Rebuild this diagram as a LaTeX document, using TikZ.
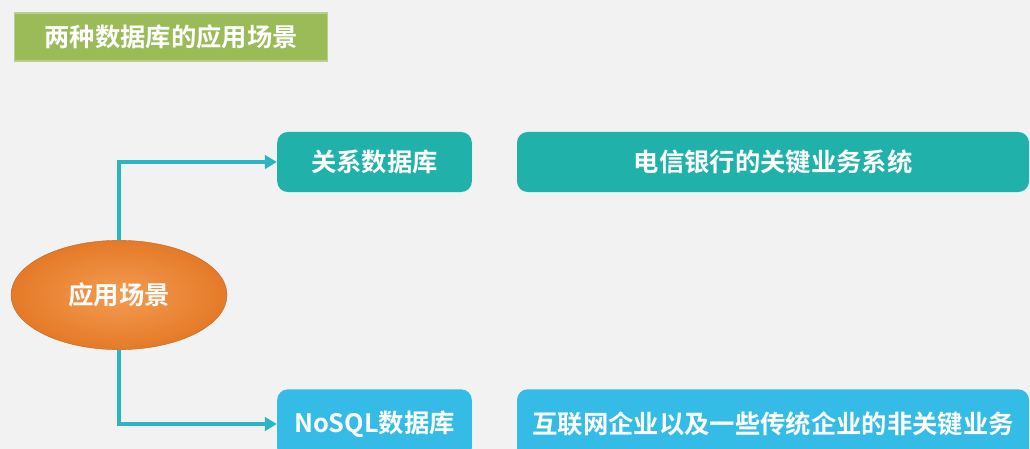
\documentclass[tikz,border=0pt]{standalone}
\usepackage{fontspec}
\setmainfont{Noto Sans CJK SC Bold}
\usepackage{xcolor}
\usepackage{tikz}
\usetikzlibrary{shapes,arrows.meta,positioning,calc}

\definecolor{bggray}{HTML}{F2F2F2}
\definecolor{titlegreen}{HTML}{9BBB59}
\definecolor{sceneorange}{HTML}{F28A32}
\definecolor{sceneedge}{HTML}{E47A28}
\definecolor{rdbteal}{HTML}{20B2AA}
\definecolor{nosqlblue}{HTML}{34BCE7}
\definecolor{linkcyan}{HTML}{2BB5C3}

\begin{document}
\begin{tikzpicture}[x=0.75pt,y=-0.75pt,
    txt/.style={text=white,font=\fontsize{19}{19}\selectfont},
    dbbox/.style={txt,rounded corners=8pt,minimum width=146pt,minimum height=45pt,inner sep=0pt},
    usebox/.style={txt,rounded corners=8pt,minimum width=384pt,minimum height=45pt,inner sep=0pt},
    link/.style={linkcyan,line width=2.3pt,-{Triangle[length=9pt,width=10pt]}}]
  % background and frame
  \fill[bggray] (0,0) rectangle (1030,449);
  \useasboundingbox (0,0) rectangle (1030,449);
  \clip (0,0) rectangle (1030,449);
  % title
  \node[txt,fill=titlegreen,draw=titlegreen!70!white,line width=0.8pt,
        minimum width=235pt,minimum height=36pt,inner sep=0pt] (title) at (171,37) {两种数据库的应用场景};
  % scene ellipse
  \node[txt,ellipse,inner color=sceneorange!85!white,outer color=sceneedge,
        draw=sceneedge!85!black,line width=0.3pt,
        minimum width=162pt,minimum height=82pt,inner sep=0pt] (scene) at (119,295) {应用场景};
  % database boxes
  \node[dbbox,fill=rdbteal] (rdb) at (374.5,162) {关系数据库};
  \node[dbbox,fill=nosqlblue,minimum height=52pt] (nosql) at (374.5,424) {NoSQL数据库};
  % use boxes
  \node[usebox,fill=rdbteal] (rdbuse) at (773,162) {电信银行的关键业务系统};
  \node[usebox,fill=nosqlblue,minimum height=52pt] (nosqluse) at (773,424) {互联网企业以及一些传统企业的非关键业务};
  % links
  \draw[link] (scene.north) |- (rdb.west);
  \draw[link] (scene.south) |- (nosql.west);
\end{tikzpicture}
\end{document}
